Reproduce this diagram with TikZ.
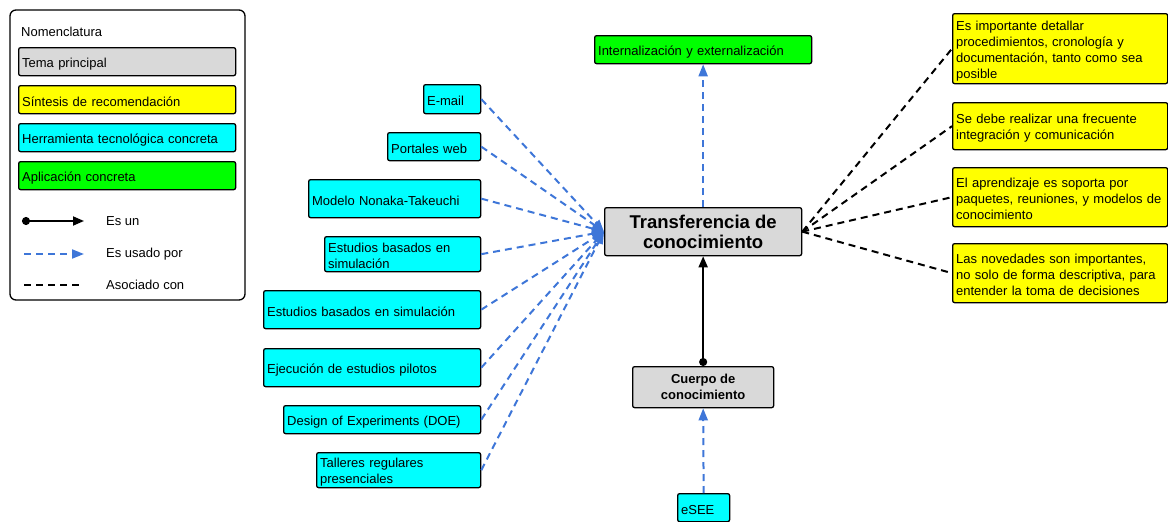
\documentclass[tikz,border=0pt]{standalone}
\usepackage{fontspec}
\setmainfont{Liberation Sans}
\usetikzlibrary{arrows.meta}

\definecolor{temagris}{RGB}{217,217,217}
\definecolor{usadoazul}{RGB}{62,118,216}
\definecolor{herrcian}{RGB}{0,255,255}
\definecolor{sintamarillo}{RGB}{255,255,0}
\definecolor{aplverde}{RGB}{0,255,0}

\tikzset{
  caja/.style={draw, line width=1.3pt, rounded corners=2pt, anchor=north west,
    inner xsep=3pt, inner ysep=1pt, align=left,
    font=\fontsize{13}{16}\selectfont},
  bajo/.style={execute at begin node={\rule{0pt}{13.5pt}}},
  tema/.style={caja, fill=temagris, align=center, font=\fontsize{13}{16}\bfseries},
  sintesis/.style={caja, bajo, fill=sintamarillo},
  herramienta/.style={caja, bajo, fill=herrcian},
  aplicacion/.style={caja, bajo, fill=aplverde},
  esun/.style={line width=1.8pt, {Circle[length=8pt]}-{Triangle[width=9pt,length=11pt]}},
  usado/.style={usadoazul, line width=2pt, dash pattern=on 7pt off 5pt,
    -{Triangle[width=9pt,length=12pt]}},
  asociado/.style={line width=2pt, dash pattern=on 7pt off 5pt},
}

\begin{document}
\begin{tikzpicture}[x=1pt, y=-1pt]
  \useasboundingbox (0,0) rectangle (1168,522);

  % Nomenclatura:
  %   the legend in the upper left corner
  \draw[line width=1.3pt, rounded corners=6pt] (10,10) rectangle (245,300);
  \node[anchor=west, inner xsep=3pt, font=\fontsize{13}{16}\selectfont] (nomen) at (18,32) {Nomenclatura};
  \node[caja, bajo, fill=temagris, minimum width=217pt, minimum height=28pt, text width=210pt] (legTema) at (18,47) {Tema principal};
  \node[sintesis, minimum width=217pt, minimum height=28pt, text width=210pt] (legSintesis) at (18,85) {Síntesis de recomendación};
  \node[herramienta, minimum width=217pt, minimum height=28pt, text width=210pt] (legHerramienta) at (18,123) {Herramienta tecnológica concreta};
  \node[aplicacion, minimum width=217pt, minimum height=28pt, text width=210pt] (legAplicacion) at (18,161) {Aplicación concreta};
  \coordinate (esunA) at (22,221);
  \coordinate (esunB) at (84,221);
  \coordinate (usadoA) at (24,254);
  \coordinate (usadoB) at (84,254);
  \coordinate (asocA) at (24,285);
  \coordinate (asocB) at (82,285);
  \draw[esun] (esunA) -- (esunB);
  \draw[usado] (usadoA) -- (usadoB);
  \draw[asociado] (asocA) -- (asocB);
  \node[anchor=west, inner sep=0pt, font=\fontsize{13}{16}\selectfont] (legEsun) at (106,221) {Es un};
  \node[anchor=west, inner sep=0pt, font=\fontsize{13}{16}\selectfont] (legUsado) at (106,254) {Es usado por};
  \node[anchor=west, inner sep=0pt, font=\fontsize{13}{16}\selectfont] (legAsoc) at (106,285) {Asociado con};

  % Transferencia de conocimiento:
  %   the main topic in the middle
  \node[tema, minimum width=197pt, minimum height=48pt, font=\fontsize{18.5}{20}\bfseries] (transfer) at (604,207) {Transferencia de\\conocimiento};
  % Cuerpo de conocimiento:
  %   is a kind of knowledge transfer
  \node[tema, minimum width=141pt, minimum height=41pt] (cuerpo) at (632,366) {Cuerpo de\\conocimiento};
  \node[herramienta, minimum width=52pt, minimum height=28pt, text width=45pt] (esee) at (677,493) {eSEE};
  \node[aplicacion, minimum width=217pt, minimum height=28pt, text width=210pt] (internal) at (594,35) {Internalización y externalización};

  % Herramientas:
  %   the concrete tools used by the transfer
  \node[herramienta, minimum width=57pt, minimum height=29pt, text width=50pt] (email) at (423,84) {E-mail};
  \node[herramienta, minimum width=93pt, minimum height=28pt, text width=86pt] (portales) at (387,132) {Portales web};
  \node[herramienta, minimum width=172pt, minimum height=38pt, text width=165pt] (nonaka) at (308,179) {Modelo Nonaka-Takeuchi};
  \node[herramienta, minimum width=156pt, minimum height=35pt, text width=149pt] (simA) at (324,236) {Estudios basados en\\simulación};
  \node[herramienta, minimum width=217pt, minimum height=38pt, text width=210pt] (simB) at (263,290) {Estudios basados en simulación};
  \node[herramienta, minimum width=217pt, minimum height=38pt, text width=210pt] (pilotos) at (263,348) {Ejecución de estudios pilotos};
  \node[herramienta, minimum width=197pt, minimum height=28pt, text width=190pt] (doe) at (283,405) {Design of Experiments (DOE)};
  \node[herramienta, minimum width=164pt, minimum height=35pt, text width=157pt] (talleres) at (316,452) {Talleres regulares\\presenciales};

  % Recomendaciones:
  %   synthesis of the recommendations
  \node[sintesis, minimum width=215pt, minimum height=70pt, text width=208pt] (rec1) at (952,13) {Es importante detallar\\procedimientos, cronología y\\documentación, tanto como sea\\posible};
  \node[sintesis, minimum width=215pt, minimum height=47pt, text width=208pt] (rec2) at (952,102) {Se debe realizar una frecuente\\integración y comunicación};
  \node[sintesis, minimum width=215pt, minimum height=59pt, text width=208pt] (rec3) at (952,167) {El aprendizaje es soporta por\\paquetes, reuniones, y modelos de\\conocimiento};
  \node[sintesis, minimum width=215pt, minimum height=59pt, text width=208pt] (rec4) at (952,243) {Las novedades son importantes,\\no solo de forma descriptiva, para\\entender la toma de decisiones};

  \foreach \h in {email, portales, nonaka, simA, simB, pilotos, doe, talleres}
    \draw[usado] (\h.east) -- (transfer.west);
  \foreach \r in {rec1, rec2, rec3, rec4}
    \draw[asociado] (transfer.east) -- (\r.west);
  \draw[usado] (transfer.north) -- (internal.south);
  \draw[esun] (cuerpo.north) -- (transfer.south);
  \draw[usado] (esee.north) -- (cuerpo.south);
\end{tikzpicture}
\end{document}
